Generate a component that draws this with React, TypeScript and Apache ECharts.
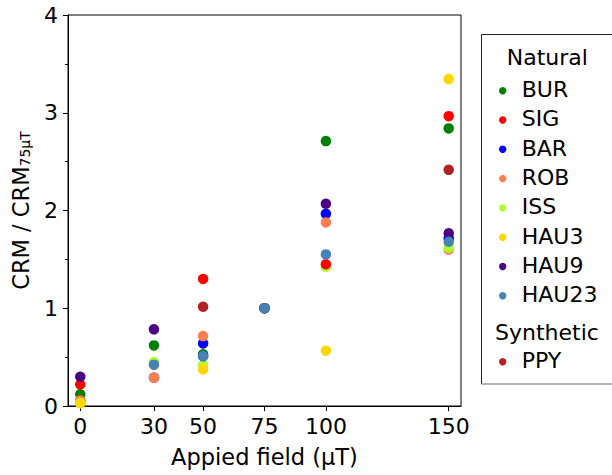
import React, { useEffect, useRef } from "react";
import * as echarts from "echarts";

// x positions (applied field, µT) and tick labels
const fields = [0, 30, 50, 75, 100, 150];
const xTicks = [0, 30, 50, 75, 100, 150];

// legend groups
const naturalNames = ["BUR", "SIG", "BAR", "ROB", "ISS", "HAU3", "HAU9", "HAU23"];
const syntheticNames = ["PPY"];

// CRM / CRM75µT values per sample at each field (null = no point)
const BUR = [0.12, 0.62, 0.53, 1.0, 2.71, 2.84];
const SIG = [0.22, null, 1.3, 1.0, 1.45, 2.965];
const BAR = [0.05, 0.29, 0.64, 1.0, 1.966, 1.714];
const ROB = [0.055, 0.29, 0.715, 1.0, 1.878, 1.6];
const ISS = [0.03, 0.45, 0.42, 1.0, 1.424, 1.619];
const HAU3 = [0.028, 0.42, 0.375, 1.0, 0.566, 3.344];
const HAU9 = [0.3, 0.784, 0.51, 1.0, 2.069, 1.766];
const HAU23 = [null, 0.423, 0.511, 1.0, 1.551, 1.68];
const PPY = [null, null, 1.015, 1.0, null, 2.416];

const colors: Record<string, string> = {
  BUR: "#008000",
  SIG: "#ff0000",
  BAR: "#0000ff",
  ROB: "#ff7f50",
  ISS: "#adff2f",
  HAU3: "#ffd700",
  HAU9: "#4b0082",
  HAU23: "#4682b4",
  PPY: "#b22222",
};

const values: Record<string, (number | null)[]> = { BUR, SIG, BAR, ROB, ISS, HAU3, HAU9, HAU23, PPY };

// drawing order (later = on top)
const drawOrder = ["PPY", "BUR", "BAR", "ROB", "ISS", "SIG", "HAU3", "HAU9", "HAU23"];

const FONT = "DejaVu Sans";

export default function App() {
  const ref = useRef<HTMLDivElement>(null);
  useEffect(() => {
    document.body.style.margin = "0";
    if (!ref.current) return;
    const chart = echarts.init(ref.current, null, { renderer: "svg" });

    const series = drawOrder.map((name) => ({
      type: "scatter",
      name,
      symbol: "circle",
      symbolSize: 10.5,
      itemStyle: { color: colors[name], opacity: 1 },
      data: fields
        .map((f, i) => (values[name][i] == null ? null : [f, values[name][i]]))
        .filter((d) => d !== null),
    }));

    // legend drawn as graphics
    const lx = 481.5;
    const legendEls: any[] = [
      { type: "line", shape: { x1: lx, y1: 34.5, x2: 612, y2: 34.5 }, style: { stroke: "#222", lineWidth: 1 } },
      { type: "line", shape: { x1: lx, y1: 34.5, x2: lx, y2: 384 }, style: { stroke: "#222", lineWidth: 1 } },
      { type: "line", shape: { x1: lx, y1: 384, x2: 612, y2: 384 }, style: { stroke: "#999", lineWidth: 1.5 } },
      {
        type: "text",
        x: 506.7,
        y: 57.3,
        style: { text: "Natural", fontSize: 22, fontFamily: FONT, fill: "#000", textVerticalAlign: "middle", textAlign: "left" },
      },
    ];
    naturalNames.forEach((n, i) => {
      const cy = 89.5 + 29.3 * i;
      legendEls.push({ type: "circle", shape: { cx: 502.7, cy: cy + 1.2, r: 3.7 }, style: { fill: colors[n] } });
      legendEls.push({
        type: "text",
        x: 521.7,
        y: cy,
        style: { text: n, fontSize: 22, fontFamily: FONT, fill: "#000", textVerticalAlign: "middle", textAlign: "left" },
      });
    });
    legendEls.push({
      type: "text",
      x: 495,
      y: 332.5,
      style: { text: "Synthetic", fontSize: 22, fontFamily: FONT, fill: "#000", textVerticalAlign: "middle", textAlign: "left" },
    });
    syntheticNames.forEach((n, i) => {
      const cy = 360.8 + 29.3 * i;
      legendEls.push({ type: "circle", shape: { cx: 502.7, cy: cy + 1, r: 3.7 }, style: { fill: colors[n] } });
      legendEls.push({
        type: "text",
        x: 521.7,
        y: cy,
        style: { text: n, fontSize: 22, fontFamily: FONT, fill: "#000", textVerticalAlign: "middle", textAlign: "left" },
      });
    });

    chart.setOption({
      animation: false,
      textStyle: { fontFamily: FONT },
      grid: { left: 68, right: 151, top: 15, bottom: 69, show: true, borderColor: "#000", borderWidth: 1 },
      xAxis: {
        type: "value",
        min: -5,
        max: 155,
        axisLine: { show: true, onZero: false, lineStyle: { color: "#000", width: 1 } },
        axisTick: { show: true, customValues: xTicks, length: 5, lineStyle: { color: "#000" } },
        axisLabel: { customValues: xTicks, fontSize: 22, color: "#000", fontFamily: FONT, margin: 9 },
        splitLine: { show: false },
        name: "Appied field (µT)",
        nameLocation: "middle",
        nameGap: 39,
        nameTextStyle: { fontSize: 22.5, color: "#000", fontFamily: FONT },
      },
      yAxis: {
        type: "value",
        min: 0,
        max: 4,
        interval: 1,
        axisLine: { show: true, onZero: false, lineStyle: { color: "#000", width: 1 } },
        axisTick: { show: true, length: 5, lineStyle: { color: "#000" } },
        minorTick: { show: true, splitNumber: 2, length: 3, lineStyle: { color: "#000" } },
        axisLabel: { fontSize: 22, color: "#000", fontFamily: FONT, margin: 10 },
        splitLine: { show: false },
        minorSplitLine: { show: false },
        name: "{m|CRM / CRM}{s|75μT}",
        nameLocation: "middle",
        nameRotate: 90,
        nameGap: 36,
        nameTextStyle: {
          color: "#000",
          fontFamily: FONT,
          rich: {
            m: { fontSize: 22.5, fontFamily: FONT, color: "#000", verticalAlign: "bottom" },
            s: { fontSize: 14, fontFamily: FONT, color: "#000", verticalAlign: "bottom" },
          },
        },
      },
      series,
      graphic: legendEls,
    });
    return () => chart.dispose();
  }, []);
  return <div ref={ref} style={{ width: 612, height: 475 }} />;
}
